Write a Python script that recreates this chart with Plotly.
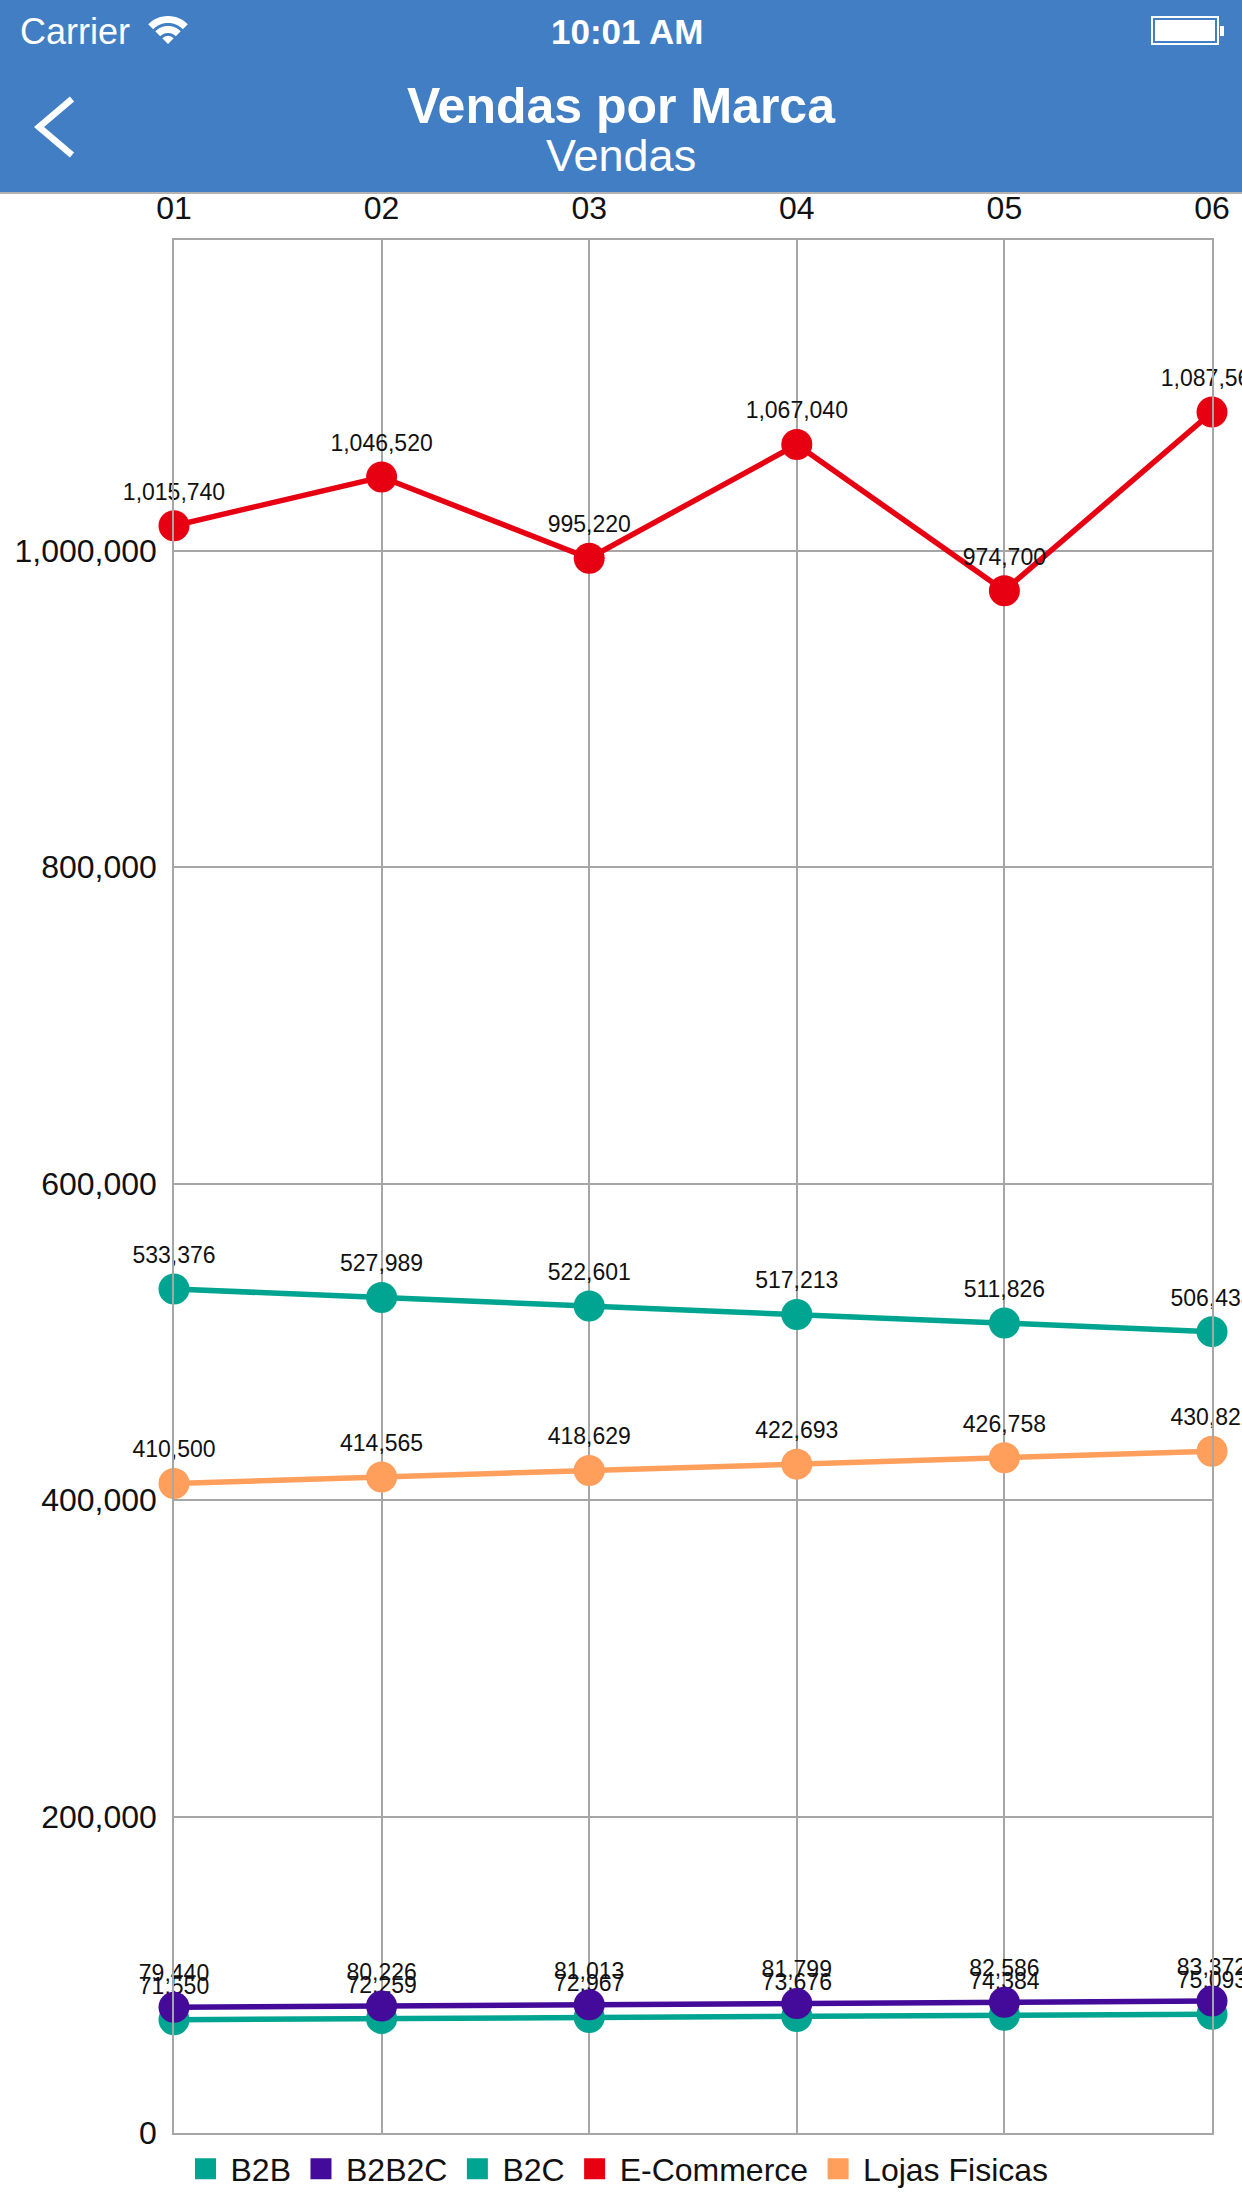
import numpy as np
import plotly.graph_objects as go

# ---------------- data ----------------
months = ["01", "02", "03", "04", "05", "06"]
b2b = [71550, 72259, 72967, 73676, 74384, 75093]
b2b2c = [79440, 80226, 81013, 81799, 82586, 83372]
b2c = [533376, 527989, 522601, 517213, 511826, 506438]
ecommerce = [1015740, 1046520, 995220, 1067040, 974700, 1087560]
lojas = [410500, 414565, 418629, 422693, 426758, 430822]
y_ticks = [0, 200000, 400000, 600000, 800000, 1000000]

series = [
    ("B2B", b2b, "#00A591"),
    ("B2B2C", b2b2c, "#440A9A"),
    ("B2C", b2c, "#00A591"),
    ("E-Commerce", ecommerce, "#E60012"),
    ("Lojas Fisicas", lojas, "#FF9F5B"),
]

# ---------------- geometry helpers (pixels -> paper) ----------------
FW, FH = 1242, 2208
L, R, T, B = 174, 1212, 240, 2133
W, H = R - L, B - T


def px(x):
    return (x - L) / W


def py(y):
    return (B - y) / H


FONT = "Liberation Sans"
HEADER = "#427EC3"

fig = go.Figure()

for name, vals, color in series:
    fig.add_trace(go.Scatter(
        x=months, y=vals, name=name, mode="lines+markers+text",
        line=dict(color=color, width=5.5),
        marker=dict(color=color, size=31),
        texttemplate="%{y:,.0f}", textposition="top center",
        textfont=dict(family=FONT, size=23, color="#111111"),
        cliponaxis=False, showlegend=False, legendgroup=name,
        hoverinfo="skip",
    ))

# legend entries (square swatches)
for name, vals, color in series:
    fig.add_trace(go.Scatter(
        x=[None], y=[None], name=name, mode="markers", legendgroup=name,
        marker=dict(symbol="square", color=color, size=16,
                    line=dict(color=color, width=5)),
        showlegend=True,
    ))

ymax = max(ecommerce) * 1.1

# ---------------- header decoration ----------------
shapes = []
shapes.append(dict(type="rect", xref="paper", yref="paper",
                   x0=px(0), x1=px(FW), y0=py(0), y1=py(192),
                   fillcolor=HEADER, line=dict(width=0), layer="above"))
shapes.append(dict(type="line", xref="paper", yref="paper",
                   x0=px(0), x1=px(FW), y0=py(193), y1=py(193),
                   line=dict(color="#b3b3b3", width=2)))
# back chevron
shapes.append(dict(type="path", xref="paper", yref="paper",
                   path=f"M {px(72)},{py(99)} L {px(39)},{py(127)} L {px(72)},{py(155)}",
                   line=dict(color="white", width=6.5)))
# wifi icon
cx, cy = 168, 44


def sector(r0, r1, a=45):
    angs = np.linspace(90 - a, 90 + a, 24)
    pts = [(cx + r1 * np.cos(np.radians(t)), cy - r1 * np.sin(np.radians(t))) for t in angs]
    pts += [(cx + r0 * np.cos(np.radians(t)), cy - r0 * np.sin(np.radians(t))) for t in angs[::-1]]
    s = "M " + " L ".join(f"{px(x)},{py(y)}" for x, y in pts) + " Z"
    return s


for r0, r1 in [(0, 8), (11, 18), (21, 28)]:
    shapes.append(dict(type="path", xref="paper", yref="paper", path=sector(r0, r1),
                       fillcolor="white", line=dict(width=0)))
# battery
shapes.append(dict(type="rect", xref="paper", yref="paper",
                   x0=px(1152), x1=px(1218), y0=py(17), y1=py(44),
                   line=dict(color="white", width=2)))
shapes.append(dict(type="rect", xref="paper", yref="paper",
                   x0=px(1155), x1=px(1215), y0=py(20), y1=py(41),
                   fillcolor="white", line=dict(width=0)))
shapes.append(dict(type="rect", xref="paper", yref="paper",
                   x0=px(1220), x1=px(1224), y0=py(26), y1=py(36),
                   fillcolor="white", line=dict(width=0)))

annotations = [
    dict(text="Carrier", x=px(18), y=py(31), xanchor="left", yanchor="middle",
         font=dict(family=FONT, size=36, color="white")),
    dict(text="<b>10:01 AM</b>", x=px(627), y=py(31), xanchor="center", yanchor="middle",
         font=dict(family=FONT, size=35, color="white")),
    dict(text="<b>Vendas por Marca</b>", x=px(621), y=py(106), xanchor="center", yanchor="middle",
         font=dict(family=FONT, size=50, color="white")),
    dict(text="Vendas", x=px(621), y=py(155), xanchor="center", yanchor="middle",
         font=dict(family=FONT, size=45, color="white")),
]
for a in annotations:
    a.update(xref="paper", yref="paper", showarrow=False)

fig.update_layout(
    width=FW, height=FH,
    margin=dict(l=L, r=FW - R, t=T, b=FH - B, pad=0),
    paper_bgcolor="white", plot_bgcolor="white",
    shapes=shapes, annotations=annotations,
    showlegend=True,
    legend=dict(orientation="h", x=px(617), xanchor="center", y=py(2169), yanchor="middle",
                font=dict(family=FONT, size=32, color="#111111"),
                itemwidth=40,
                itemclick=False, bgcolor="rgba(0,0,0,0)"),
    xaxis=dict(type="category", categoryorder="array", categoryarray=months,
               range=[0, 5], side="top", showgrid=True, gridcolor="#a6a6a6", gridwidth=1.5,
               showline=True, linecolor="#a6a6a6", linewidth=1.5, mirror=True,
               ticks="", tickfont=dict(family=FONT, size=32, color="#111111"),
               ticklabelstandoff=6, zeroline=False, fixedrange=True),
    yaxis=dict(range=[0, ymax], tickvals=y_ticks, tickformat=",",
               showgrid=True, gridcolor="#a6a6a6", gridwidth=1.5,
               showline=True, linecolor="#a6a6a6", linewidth=1.5, mirror=True,
               ticks="", tickfont=dict(family=FONT, size=32, color="#111111"),
               ticklabelstandoff=9, zeroline=False, fixedrange=True),
)

fig.write_html("out.html", config={"displayModeBar": False},
               post_script="document.body.style.margin='0';document.body.style.overflow='hidden';")
